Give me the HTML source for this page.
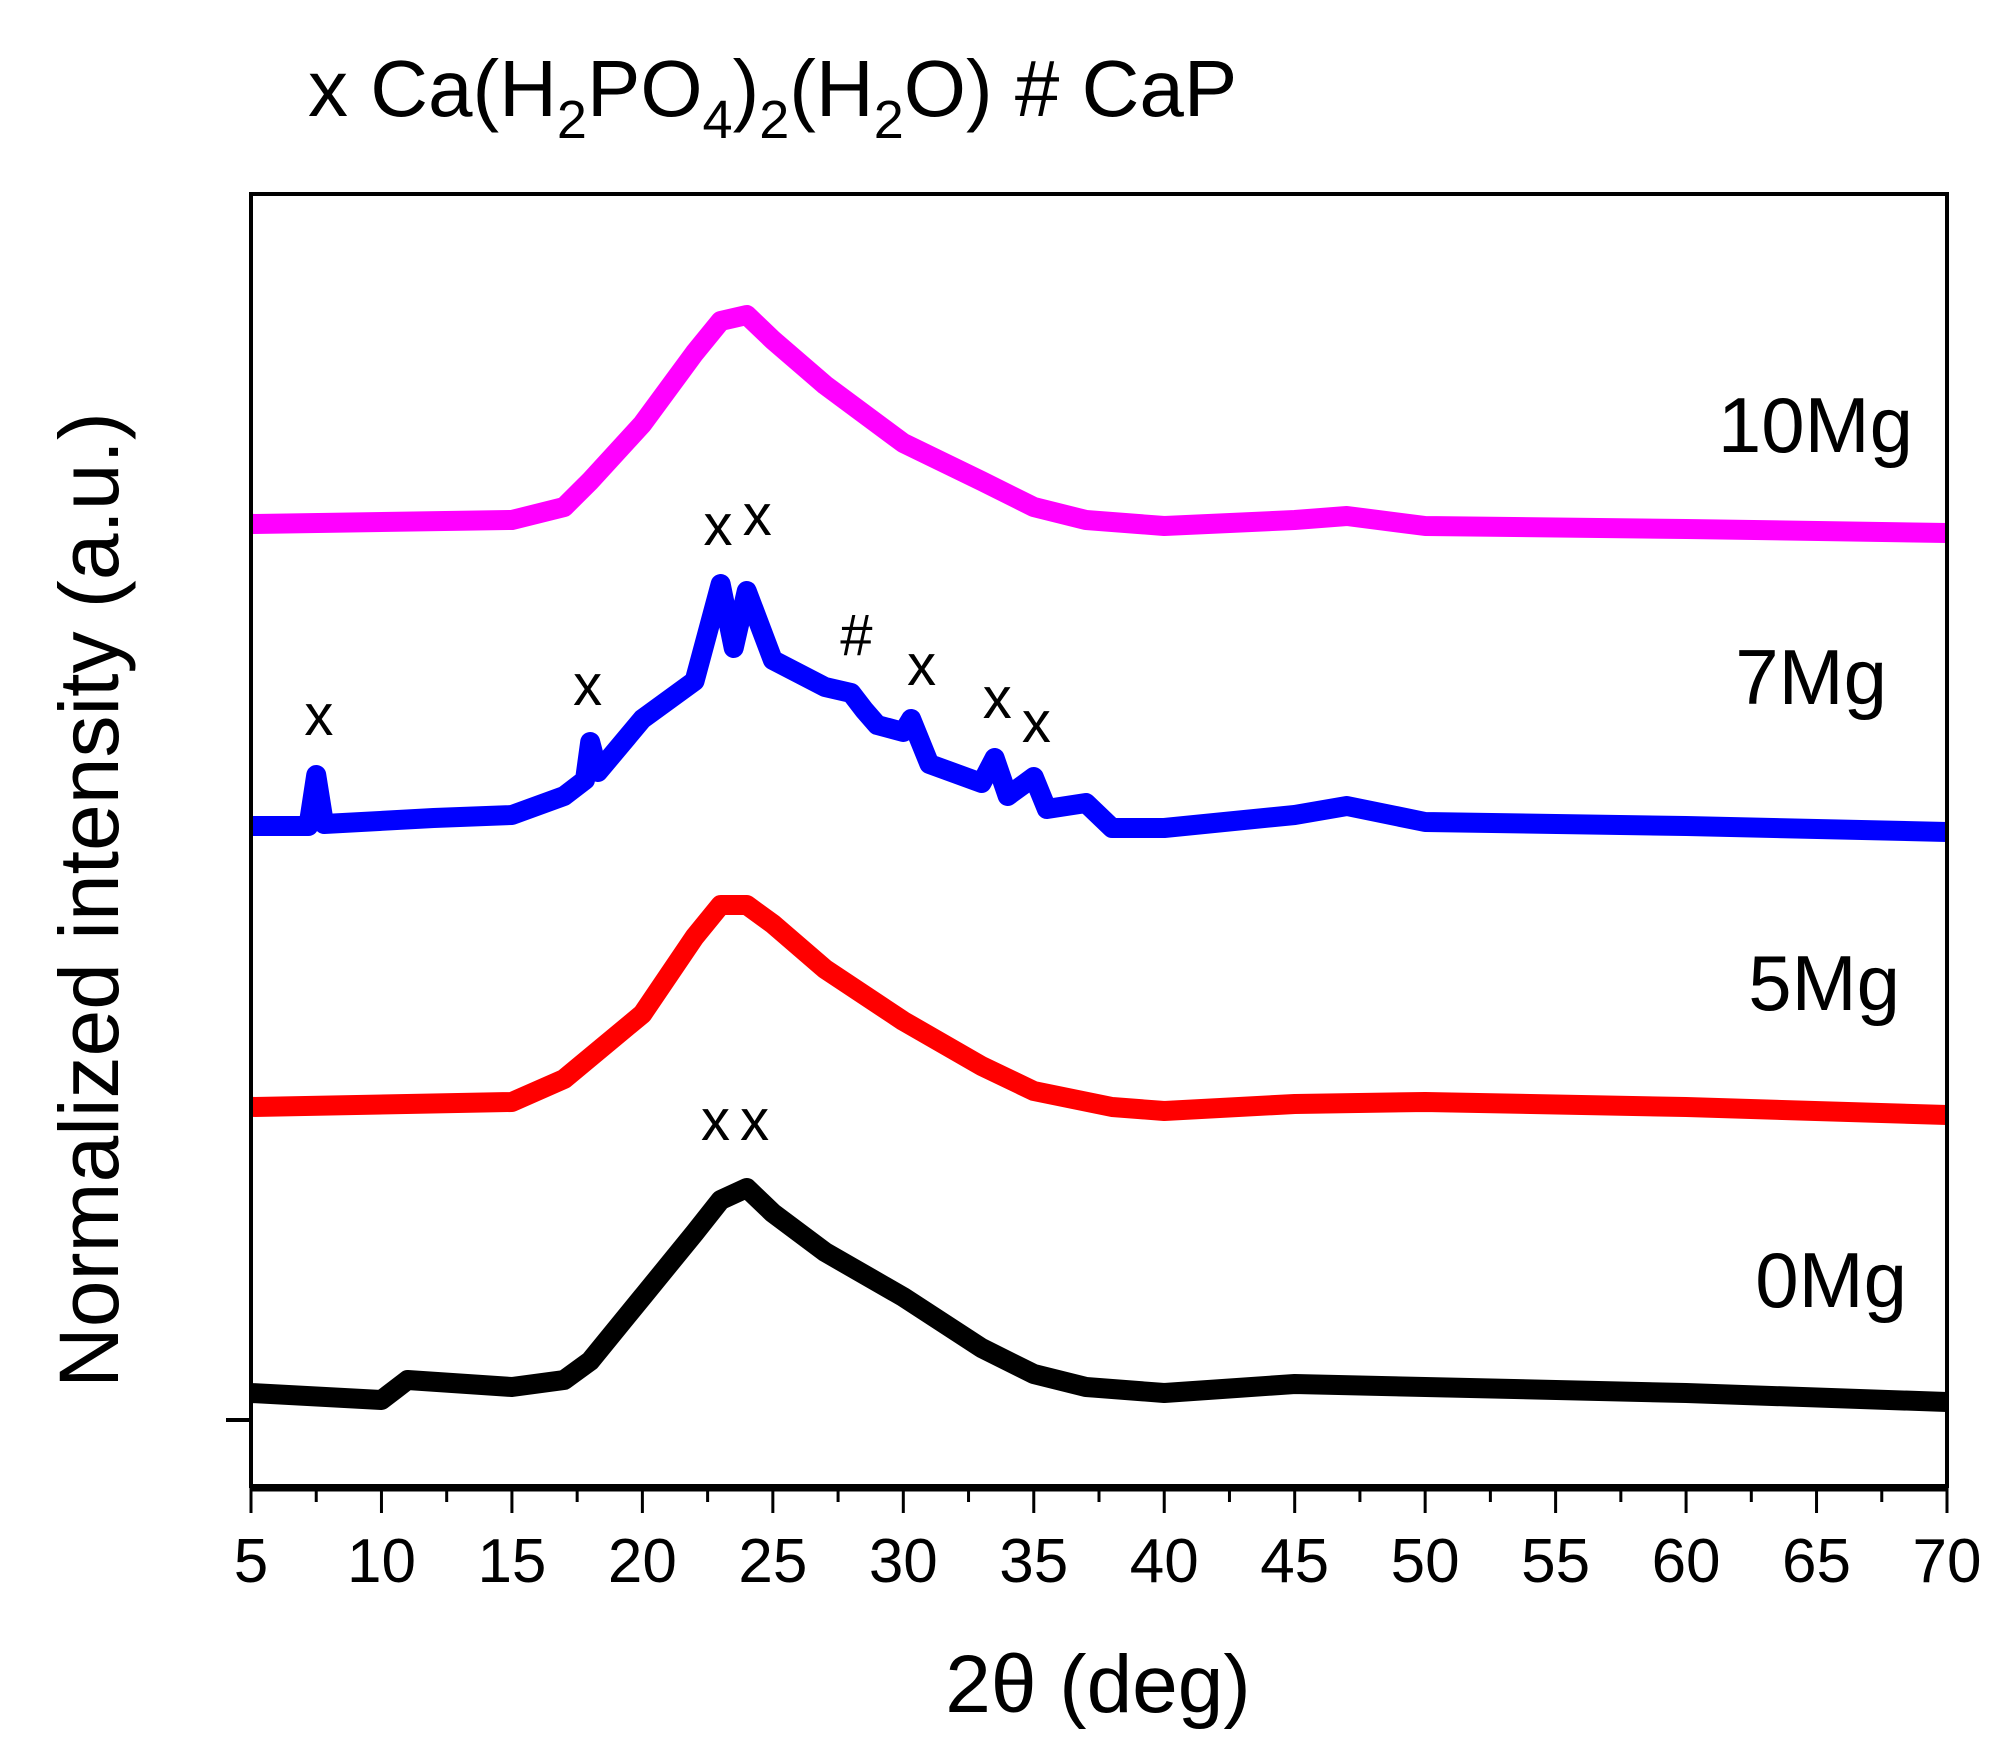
<!DOCTYPE html>
<html><head><meta charset="utf-8"><style>
html,body{margin:0;padding:0;background:#fff;}
svg{display:block;font-family:"Liberation Sans",Arial,sans-serif;}
</style></head><body>
<svg id="chart" width="2013" height="1748" viewBox="0 0 2013 1748">
<text x="308" y="116" font-size="80">x Ca(H<tspan dy="22" font-size="54">2</tspan><tspan dy="-22">PO</tspan><tspan dy="22" font-size="54">4</tspan><tspan dy="-22">)</tspan><tspan dy="22" font-size="54">2</tspan><tspan dy="-22">(H</tspan><tspan dy="22" font-size="54">2</tspan><tspan dy="-22">O) # CaP</tspan></text>
<g id="series"></g>
<g id="annos"></g>
<rect x="251" y="194" width="1696" height="1292" fill="none" stroke="#000" stroke-width="4"/>
<line x1="251" y1="1488" x2="1947" y2="1488" stroke="#000" stroke-width="7"/>
<line x1="226" y1="1420" x2="251" y2="1420" stroke="#000" stroke-width="4"/>
<g id="xticks"></g>
<text x="1098" y="1712" font-size="82" text-anchor="middle">2θ (deg)</text>
<text transform="translate(118,900) rotate(-90)" font-size="84" text-anchor="middle">Normalized intensity (a.u.)</text>
<text x="1913" y="452" font-size="78" text-anchor="end">10Mg</text>
<text x="1887" y="704" font-size="78" text-anchor="end">7Mg</text>
<text x="1900" y="1010" font-size="78" text-anchor="end">5Mg</text>
<text x="1907" y="1307" font-size="78" text-anchor="end">0Mg</text>
</svg>
<script>
const xTicks=[5,10,15,20,25,30,35,40,45,50,55,60,65,70];
const x0Mg=[5,10,11,15,17,18,20,22,23,24,25,27,30,33,35,37,40,45,50,60,70];
const y0Mg=[2.7,2.0,4.0,3.3,4.0,5.9,12.3,18.7,22.0,23.2,20.7,16.8,12.3,7.2,4.6,3.3,2.7,3.6,3.3,2.7,1.8];
const x5Mg=[5,15,17,20,22,23,24,25,27,30,33,35,38,40,45,50,60,70];
const y5Mg=[31.3,31.8,34.1,40.6,48.3,51.5,51.5,49.6,45.1,39.9,35.4,32.9,31.3,30.9,31.6,31.8,31.3,30.5];
const x7Mg=[5,7.2,7.5,7.8,12,15,17,17.8,18,18.3,20,22,23,23.5,24,25,27,28,28.5,29,30,30.3,31,33,33.5,34,35,35.5,37,38,40,45,47,50,60,70];
const y7Mg=[59.4,59.4,64.5,59.6,60.2,60.5,62.4,64.0,67.8,64.8,70.1,73.9,83.6,77.2,82.9,76.0,73.3,72.7,71.0,69.5,68.8,70.1,65.6,63.7,66.2,62.4,64.3,61.1,61.7,59.2,59.2,60.5,61.4,59.8,59.4,58.8];
const x10Mg=[5,15,17,18,20,22,23,24,25,27,30,33,35,37,40,45,47,50,60,70];
const y10Mg=[89.6,90.0,91.3,93.9,99.6,106.7,109.9,110.5,108.0,103.5,97.7,93.9,91.3,90.0,89.4,90.0,90.4,89.4,89.1,88.7];
const annoText=["x","x","x","x","#","x","x","x","x","x"];
const annoX=[7.6,17.9,22.9,24.4,28.2,30.7,33.6,35.1,22.8,24.3];
const annoY=[68.5,71.5,87.5,88.5,76.5,73.5,70.2,67.8,28,28];
function sx(v){return 251+(v-5)/65*1696;}
function sy(v){return 1420-v*10;}
const NS="http://www.w3.org/2000/svg";
const series=[[x10Mg,y10Mg,"#ff00ff","series-10mg"],[x7Mg,y7Mg,"#0000ff","series-7mg"],[x5Mg,y5Mg,"#ff0000","series-5mg"],[x0Mg,y0Mg,"#000000","series-0mg"]];
const g=document.getElementById("series");
series.forEach(s=>{
 const p=document.createElementNS(NS,"polyline");
 p.setAttribute("points",s[0].map((x,i)=>sx(x)+","+sy(s[1][i])).join(" "));
 p.setAttribute("fill","none");p.setAttribute("stroke",s[2]);p.setAttribute("stroke-width","20");p.setAttribute("stroke-linejoin","round");
 
 
 g.appendChild(p);
});
const ag=document.getElementById("annos");
annoText.forEach((t,i)=>{
 const e=document.createElementNS(NS,"text");
 e.setAttribute("x",sx(annoX[i]));e.setAttribute("y",sy(annoY[i]));e.setAttribute("font-size","58");e.setAttribute("text-anchor","middle");
 e.textContent=t;
 
 
 ag.appendChild(e);
});
const tg=document.getElementById("xticks");
for(let v=5;v<=70;v+=2.5){
 const major=(v%5===0);
 const l=document.createElementNS(NS,"line");
 l.setAttribute("x1",sx(v));l.setAttribute("x2",sx(v));l.setAttribute("y1",1488);l.setAttribute("y2",major?1513:1502);
 l.setAttribute("stroke","#000");l.setAttribute("stroke-width","3");
 
 
 tg.appendChild(l);
}
xTicks.forEach(v=>{
 const t=document.createElementNS(NS,"text");
 t.setAttribute("x",sx(v));t.setAttribute("y",1582);t.setAttribute("font-size","62");t.setAttribute("text-anchor","middle");
 t.textContent=v;
 
 
 tg.appendChild(t);
});
</script>
</body></html>
